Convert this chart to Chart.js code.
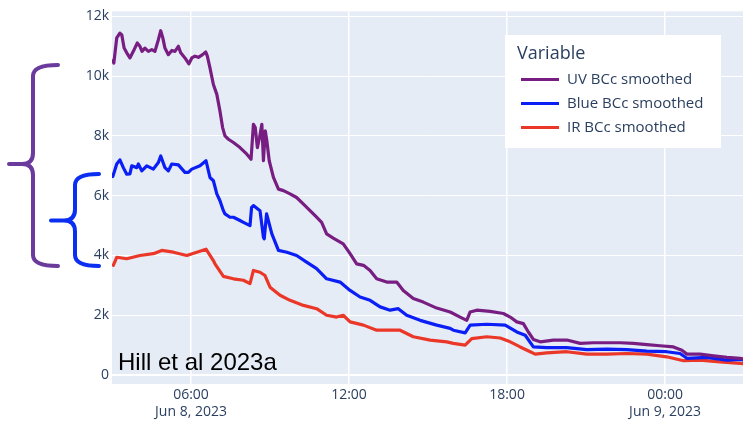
<!DOCTYPE html>
<html>
<head>
<meta charset="utf-8">
<script src="https://cdn.jsdelivr.net/npm/chart.js@4.4.1/dist/chart.umd.min.js"></script>
<style>
  html, body { margin: 0; padding: 0; background: #ffffff; }
  #wrap { width: 743px; height: 421px; position: relative; }
</style>
</head>
<body>
<div id="wrap"><canvas id="bc" width="743" height="421"></canvas></div>
<script>
// Time axis: hours since Jun 8, 2023 00:00
const xTickHours = [6, 12, 18, 24];
const xTickLabels = [["06:00", "Jun 8, 2023"], ["12:00"], ["18:00"], ["00:00", "Jun 9, 2023"]];
const yTickValues = [0, 2000, 4000, 6000, 8000, 10000, 12000];
const yTickLabels = ["0", "2k", "4k", "6k", "8k", "10k", "12k"];

const seriesNames = ["UV BCc smoothed", "Blue BCc smoothed", "IR BCc smoothed"];
const seriesColors = ["#781e82", "#0a1ef5", "#eb3728"];

const uvHours = [3.03,3.07,3.18,3.30,3.37,3.46,3.56,3.68,3.81,3.96,4.06,4.14,4.25,4.38,4.51,4.63,4.76,4.85,4.93,5.01,5.14,5.27,5.39,5.52,5.61,5.77,5.92,6.03,6.15,6.28,6.44,6.56,6.62,6.72,6.85,6.98,7.10,7.20,7.29,7.42,7.61,7.86,8.12,8.28,8.37,8.44,8.52,8.60,8.69,8.75,8.82,8.88,8.97,9.13,9.32,9.51,9.76,10.01,10.27,10.52,10.77,10.96,11.15,11.40,11.78,12.04,12.29,12.55,12.80,13.05,13.43,13.81,14.06,14.44,14.82,15.33,15.84,16.22,16.47,16.60,16.85,17.36,17.86,18.12,18.37,18.62,18.81,19.00,19.26,19.76,20.27,20.78,21.28,21.79,22.30,22.80,23.31,23.81,24.32,24.64,24.83,25.33,25.84,26.35,26.85,26.96];
const uvValues = [10520,10440,11280,11440,11390,10940,10780,10610,10830,11110,11000,10830,10940,10830,10890,10830,11220,11520,11280,10940,10720,10860,10830,11000,10780,10610,10410,10610,10670,10630,10720,10810,10670,10280,9720,9390,8830,8280,8000,7890,7780,7610,7390,7220,8390,8280,7610,7940,8390,7170,8170,7830,7170,6610,6220,6170,6060,5940,5720,5500,5280,5110,4720,4580,4390,4060,3720,3670,3500,3220,3110,3110,2830,2560,2440,2240,2110,1940,1830,2110,2170,2130,2060,1940,1780,1720,1440,1190,1110,1170,1170,1060,1080,1080,1080,1060,1020,980,940,830,700,700,640,590,560,540];

const blueHours = [3.03,3.18,3.30,3.43,3.56,3.68,3.75,3.94,4.00,4.13,4.32,4.57,4.76,4.85,5.01,5.14,5.27,5.52,5.77,5.90,6.03,6.34,6.57,6.72,6.85,6.98,7.10,7.23,7.29,7.48,7.61,7.86,7.99,8.24,8.30,8.37,8.50,8.62,8.75,8.78,8.87,9.07,9.32,9.64,10.01,10.39,10.77,11.15,11.66,12.04,12.42,12.80,13.18,13.56,13.87,14.19,14.70,15.33,15.84,15.96,16.41,16.60,17.23,17.93,18.37,18.69,19.00,19.51,20.27,21.03,21.79,22.55,23.31,24.06,24.57,24.83,25.58,26.35,26.85,26.96];
const blueValues = [6640,7060,7200,6940,6720,6730,7000,6940,7060,6830,7000,6890,7110,7330,6940,6830,7060,7030,6780,6780,6890,7000,7170,6610,6500,6060,5830,5500,5390,5280,5280,5170,5110,5000,5610,5670,5580,5500,4610,4560,5390,4720,4170,4110,4000,3780,3560,3220,3110,2830,2610,2500,2280,2170,2220,2000,1830,1670,1560,1500,1410,1670,1700,1670,1440,1330,940,920,920,850,870,850,800,780,720,560,590,500,520,510];

const irHours = [3.05,3.18,3.56,4.06,4.57,4.89,5.33,5.84,6.22,6.57,6.85,6.91,7.23,7.61,7.99,8.24,8.37,8.62,8.81,9.00,9.38,9.76,10.27,10.77,11.15,11.53,11.78,12.04,12.55,13.05,13.56,13.94,14.44,15.08,15.71,15.96,16.41,16.66,17.23,17.74,18.12,18.50,18.88,19.07,19.51,20.27,21.03,21.79,22.55,23.31,24.06,24.70,25.33,26.09,26.85,26.96];
const irValues = [3670,3940,3890,4000,4060,4170,4110,4000,4110,4210,3830,3720,3300,3220,3170,3060,3500,3440,3330,2940,2670,2500,2330,2220,2000,1940,2000,1780,1670,1500,1500,1500,1280,1170,1110,1060,1000,1220,1280,1240,1110,940,780,700,740,780,700,700,720,700,610,480,500,440,390,380];

function toPoints(hours, values) {
  return hours.map((h, i) => ({ x: h, y: values[i] }));
}

const TICK_COLOR = "#2a3f5f";
const PLOT_BG = "#e5ecf6";

// Plot-area background
const plotBackground = {
  id: "plotBackground",
  beforeDraw(chart) {
    const { ctx, chartArea: a } = chart;
    ctx.save();
    ctx.fillStyle = PLOT_BG;
    ctx.fillRect(a.left, a.top, a.right - a.left, a.bottom - a.top);
    ctx.restore();
  }
};

// Citation text in the lower left of the plot
const citation = {
  id: "citation",
  afterDatasetsDraw(chart) {
    const ctx = chart.ctx;
    ctx.save();
    ctx.font = '24px "Liberation Sans", Arial, sans-serif';
    ctx.fillStyle = "#000000";
    ctx.textBaseline = "alphabetic";
    ctx.textAlign = "left";
    ctx.fillText("Hill et al 2023a", 118, 370);
    ctx.restore();
  }
};

// Legend box with title
const legendBox = {
  id: "legendBox",
  afterDraw(chart) {
    const ctx = chart.ctx;
    ctx.save();
    ctx.fillStyle = "#ffffff";
    ctx.fillRect(505, 35, 216, 113);
    ctx.fillStyle = TICK_COLOR;
    ctx.font = '18px "Open Sans", sans-serif';
    ctx.textBaseline = "alphabetic";
    ctx.textAlign = "left";
    ctx.fillText("Variable", 517, 59);
    ctx.font = '15px "Open Sans", sans-serif';
    ctx.textBaseline = "middle";
    chart.data.datasets.forEach((ds, i) => {
      const y = 79.5 + i * 24;
      ctx.strokeStyle = ds.borderColor;
      ctx.lineWidth = 3;
      ctx.beginPath();
      ctx.moveTo(521, y);
      ctx.lineTo(559, y);
      ctx.stroke();
      ctx.fillStyle = TICK_COLOR;
      ctx.fillText(ds.label, 567, y + 0.5);
    });
    ctx.restore();
  }
};

// Curly braces to the left of the value axis
function drawBrace(ctx, color, xv, top, bottom, mid, tipX, hookX) {
  const r = 11;
  ctx.strokeStyle = color;
  ctx.lineWidth = 4;
  ctx.lineCap = "round";
  ctx.lineJoin = "round";
  ctx.beginPath();
  ctx.moveTo(hookX, top);
  ctx.quadraticCurveTo(xv, top, xv, top + r);
  ctx.lineTo(xv, mid - r);
  ctx.quadraticCurveTo(xv, mid, xv - r, mid);
  ctx.lineTo(tipX, mid);
  ctx.moveTo(xv - r, mid);
  ctx.quadraticCurveTo(xv, mid, xv, mid + r);
  ctx.lineTo(xv, bottom - r);
  ctx.quadraticCurveTo(xv, bottom, hookX, bottom);
  ctx.stroke();
}
const braces = {
  id: "braces",
  afterDraw(chart) {
    const ctx = chart.ctx;
    ctx.save();
    drawBrace(ctx, "#6a3a9c", 33, 65, 266, 164, 9, 58);
    drawBrace(ctx, "#0a2ef2", 75, 174, 266, 220.5, 51, 99);
    ctx.restore();
  }
};

const datasets = [
  { label: seriesNames[0], data: toPoints(uvHours, uvValues), borderColor: seriesColors[0] },
  { label: seriesNames[1], data: toPoints(blueHours, blueValues), borderColor: seriesColors[1] },
  { label: seriesNames[2], data: toPoints(irHours, irValues), borderColor: seriesColors[2] }
].map(d => Object.assign(d, {
  borderWidth: 3.2, pointRadius: 0, tension: 0, fill: false,
  borderJoinStyle: "round", borderCapStyle: "round"
}));

new Chart(document.getElementById("bc"), {
  type: "line",
  data: { datasets },
  plugins: [plotBackground, citation, legendBox, braces],
  options: {
    responsive: false,
    animation: false,
    devicePixelRatio: 1,
    layout: { padding: { top: 10, right: 0, bottom: 0, left: 0 } },
    plugins: { legend: { display: false }, tooltip: { enabled: false } },
    scales: {
      x: {
        type: "linear",
        min: 3,
        max: 26.96,
        afterBuildTicks: s => { s.ticks = xTickHours.map(v => ({ value: v })); },
        afterFit: s => { s.height = 37; },
        ticks: {
          autoSkip: false, maxRotation: 0, padding: 3,
          color: TICK_COLOR,
          font: { family: '"Open Sans", sans-serif', size: 14 },
          callback: v => xTickLabels[xTickHours.indexOf(v)]
        },
        grid: { color: "#ffffff", lineWidth: 1.5, drawTicks: false },
        border: { display: false }
      },
      y: {
        type: "linear",
        min: -300,
        max: 12167,
        afterBuildTicks: s => { s.ticks = yTickValues.map(v => ({ value: v })); },
        afterFit: s => { s.width = 112; },
        ticks: {
          padding: 3,
          color: TICK_COLOR,
          font: { family: '"Open Sans", sans-serif', size: 14 },
          callback: v => yTickLabels[yTickValues.indexOf(v)]
        },
        grid: {
          color: "#ffffff",
          lineWidth: c => (c.tick && c.tick.value === 0 ? 2 : 1),
          drawTicks: false
        },
        border: { display: false }
      }
    }
  }
});
</script>
</body>
</html>
